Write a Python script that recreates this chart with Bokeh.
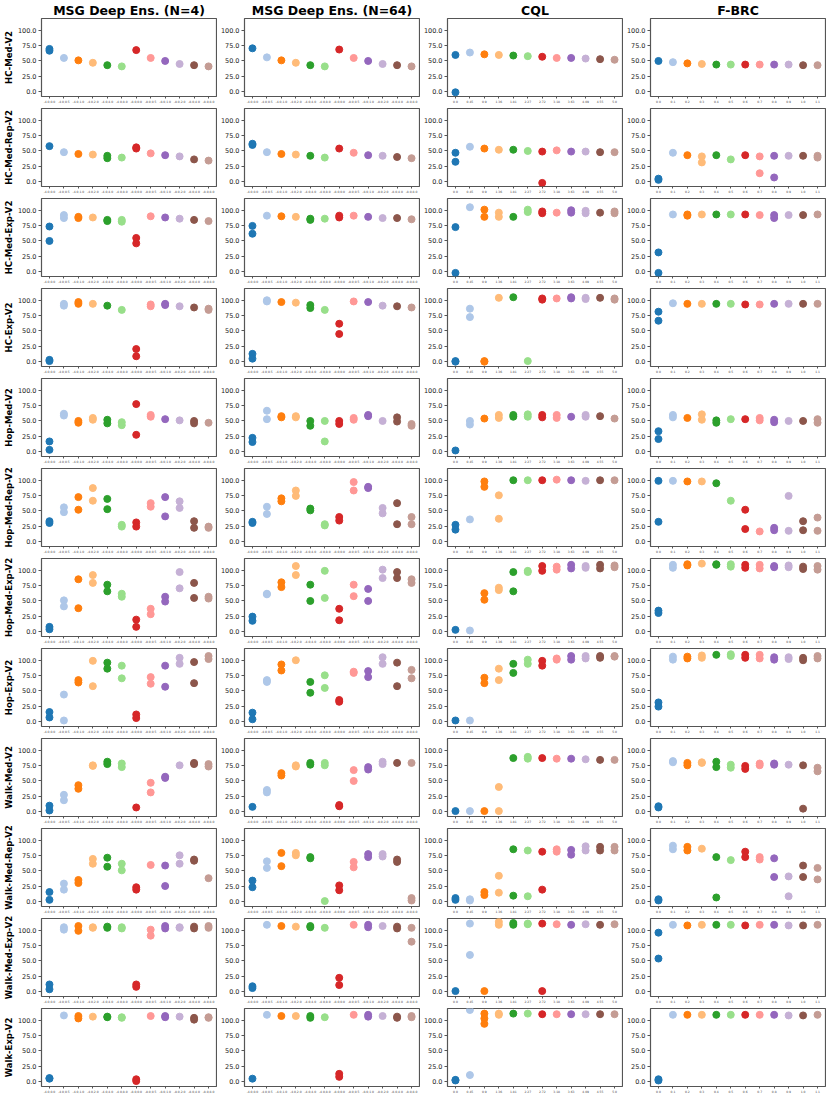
from bokeh.plotting import figure
from bokeh.layouts import gridplot
from bokeh.models import FixedTicker, PrintfTickFormatter, ColumnDataSource, Range1d
from bokeh.embed import file_html
from bokeh.resources import INLINE

row_names = ["HC-Med-V2", "HC-Med-Rep-V2", "HC-Med-Exp-V2", "HC-Exp-V2",
             "Hop-Med-V2", "Hop-Med-Rep-V2", "Hop-Med-Exp-V2", "Hop-Exp-V2",
             "Walk-Med-V2", "Walk-Med-Rep-V2", "Walk-Med-Exp-V2", "Walk-Exp-V2"]
col_titles = ["MSG Deep Ens. (N=4)", "MSG Deep Ens. (N=64)", "CQL", "F-BRC"]

msg_ticks = ["-4.0,0.0", "-4.0,0.5", "-4.0,1.0", "-4.0,2.0", "-4.0,4.0", "-4.0,8.0",
             "-8.0,0.0", "-8.0,0.5", "-8.0,1.0", "-8.0,2.0", "-8.0,4.0", "-8.0,8.0"]
cql_ticks = ["0.0", "0.45", "0.9", "1.36", "1.81", "2.27", "2.72", "3.18", "3.63", "4.09", "4.55", "5.0"]
fbrc_ticks = ["0.0", "0.1", "0.2", "0.3", "0.4", "0.5", "0.6", "0.7", "0.8", "0.9", "1.0", "1.1"]

colors = ["#1f77b4", "#aec7e8", "#ff7f0e", "#ffbb78", "#2ca02c", "#98df8a",
          "#d62728", "#ff9896", "#9467bd", "#c5b0d5", "#8c564b", "#c49c94"]

# scores: [row][setting] -> list of seed results
msg4 = [
    [[67, 70], [55], [51], [47], [43], [41], [68], [55], [50], [45], [43], [41]],
    [[58], [48], [45], [44], [42, 38], [39], [54, 56], [46], [43], [41], [36], [34]],
    [[74, 50], [93, 88], [90, 88], [89], [85, 83], [85, 82], [55, 46], [91], [89], [87], [85], [83]],
    [[2, 0], [95, 92], [98, 95], [95], [92], [85], [20, 8], [94, 91], [95, 93], [91], [89], [87, 85]],
    [[16, 2], [62, 59], [50, 47], [55, 52], [52, 46], [48, 43], [78, 27], [60, 57], [53], [51], [50, 46], [47]],
    [[33, 30], [56, 48], [73, 52], [88, 67], [70, 53], [27, 24], [31, 24], [63, 57], [73, 41], [66, 55], [33, 22], [24, 22]],
    [[7, 3], [51, 41], [86, 38], [93, 80], [77, 66], [62, 57], [19, 7], [37, 28], [57, 49], [98, 71], [80, 55], [57, 54]],
    [[15, 6], [44, 1], [68, 64], [100, 58], [97, 87], [92, 71], [11, 5], [73, 62], [92, 57], [105, 95], [98, 63], [108, 103]],
    [[9, 1], [27, 18], [43, 37], [76, 75], [82, 78], [79, 73], [6], [47, 31], [57, 55], [76], [80, 78], [78, 74]],
    [[15, 2], [29, 19], [35, 30], [70, 62], [72, 57], [62, 51], [23, 19], [60], [59, 25], [76, 62], [69, 67], [38]],
    [[11, 3], [106, 102], [108, 100], [106, 105], [107, 105], [106, 104], [11, 7], [102, 92], [108, 104], [106, 105], [107, 104], [108, 105]],
    [[5, 4], [109], [108, 104], [107], [107, 106], [106, 105], [3, 0], [108], [108, 106], [107], [105, 102], [106, 105]],
]

msg64 = [
    [[71], [56], [51], [47], [43], [41], [69], [55], [50], [45], [43], [41]],
    [[60, 62], [48], [45], [44], [42], [39], [54], [47], [43], [42], [40], [38]],
    [[75, 62], [92], [91], [90], [87, 85], [87], [92, 89], [92], [90], [88], [88], [86]],
    [[12, 4], [101, 99], [98], [97], [93, 88], [85], [62, 45], [99], [98], [92], [91], [89]],
    [[22, 15], [67, 53], [58, 56], [58, 56], [50, 42], [50, 16], [50, 45], [55, 52], [60, 58], [50], [56, 49], [45, 42]],
    [[32, 30], [57, 45], [71, 66], [84, 75], [54, 51], [28, 26], [40, 34], [98, 84], [90, 88], [55, 46], [63, 28], [40, 28]],
    [[24, 17], [62, 61], [81, 73], [108, 93], [77, 50], [100, 55], [37, 18], [77, 58], [70, 50], [102, 88], [98, 88], [86, 80]],
    [[14, 3], [68, 65], [94, 84], [101], [65, 47], [76, 55], [35, 32], [82, 80], [83, 73], [106, 95], [97, 58], [85, 71]],
    [[7], [35, 31], [63, 59], [76, 74], [80, 77], [80, 76], [10, 8], [68, 50], [73, 69], [82, 78], [80], [80]],
    [[34, 23], [66, 55], [80, 58], [80, 76], [73, 71], [0], [26, 18], [65, 56], [78, 73], [78, 74], [69, 65], [5, 1]],
    [[8, 5], [110], [108], [107], [108, 106], [105], [22, 10], [110], [110, 106], [108], [107, 104], [105, 82]],
    [[4], [110], [108], [108], [108, 105], [106], [12, 7], [110], [110, 107], [108], [107, 105], [108, 106]],
]

cql = [
    [[60, -2], [64], [61], [60], [59], [58], [57], [55], [55], [54], [53], [52]],
    [[47, 32], [57], [54], [52], [52], [50], [49, -3], [51], [49], [49], [48], [48]],
    [[73, -3], [106], [102, 90], [97, 90], [90], [102, 98], [99, 96], [97], [101, 97], [100, 96], [97], [99, 96]],
    [[0, -1], [87, 73], [0, -1], [105], [106], [0], [104, 102], [104], [106, 104], [105, 103], [105], [104, 102]],
    [[1], [50, 44], [54], [60, 55], [60, 57], [61, 57], [60, 56], [60, 55], [57], [60, 57], [58], [54]],
    [[27, 19], [36], [99, 90], [76, 37], [101], [101], [101], [102], [101], [100], [101], [101]],
    [[2], [1], [63, 52], [72, 68], [98, 66], [100, 98], [108, 100], [107, 102], [110, 104], [108, 105], [110, 104], [109, 106]],
    [[1], [1], [72, 63], [87, 68], [95, 80], [102, 95], [100, 92], [104, 102], [108, 102], [108, 104], [108, 105], [108, 107]],
    [[0], [0], [0], [40, 0], [88], [90, 87], [88], [87], [87], [86], [85], [85]],
    [[5, 2], [3, 1], [15, 10], [42, 14], [86, 9], [84, 8], [82, 19], [86, 82], [85, 77], [91, 84], [90, 84], [90, 84]],
    [[0], [112, 60], [0], [115, 110], [113, 110], [112, 111], [112, 0], [111], [110], [111], [110], [111]],
    [[2, 1], [118, 10], [112, 104, 95], [112, 110], [112], [112], [111], [111], [111], [111], [111], [111]],
]

fbrc = [
    [[50], [48], [46], [45], [44], [44], [44], [44], [44], [44], [43], [43]],
    [[2, 4], [47], [43], [41, 31], [43], [36], [43], [41, 13], [42, 6], [42], [42], [42, 39]],
    [[31, -3], [94], [94, 92], [94], [94], [94], [94], [93], [93, 88], [93], [93], [94]],
    [[82, 67], [96], [95], [95], [95], [95], [94], [94], [95], [95], [95], [95]],
    [[33, 20], [60, 56], [55], [61, 52], [51, 47], [53], [53], [55, 51], [52, 48], [50], [50], [53, 47]],
    [[100, 32], [100], [99], [99], [96], [67], [52, 20], [16], [22, 18], [75, 17], [33, 18], [39, 17]],
    [[34, 30], [110, 105], [111, 109], [112], [111, 110], [111, 107], [110, 105], [110, 104], [108, 106], [109, 106], [107, 103], [108, 102]],
    [[31, 24], [107, 102], [107, 104], [109, 105], [110], [111, 108], [110, 105], [110, 104], [106, 102], [106, 103], [105, 101], [108, 104]],
    [[8, 6], [83, 81], [80, 76], [81, 80], [82, 73], [77, 72], [75, 70], [79, 76], [79, 77], [77], [76, 4], [72, 66]],
    [[3, 1], [92, 86], [90, 84], [87], [73, 6], [68], [82, 73], [73, 69], [71, 40], [41, 8], [59, 40], [55, 36]],
    [[97, 54], [110], [109], [110], [110], [110], [109], [110], [110], [109], [109], [110]],
    [[3, 1], [110], [110], [110], [110], [110], [110], [110], [110], [109], [109], [110]],
]

columns = [(msg4, msg_ticks), (msg64, msg_ticks), (cql, cql_ticks), (fbrc, fbrc_ticks)]

FONT = "DejaVu Sans"
grid = []
for r in range(12):
    row = []
    for c in range(4):
        data, ticks = columns[c]
        xs, ys, cs = [], [], []
        for i, vals in enumerate(data[r]):
            for v in vals:
                xs.append(i)
                ys.append(v)
                cs.append(colors[i])
        src = ColumnDataSource(dict(x=xs, y=ys, c=cs))
        p = figure(frame_width=175, frame_height=78,
                   x_range=Range1d(-0.55, 11.55), y_range=Range1d(-9, 120.5),
                   output_backend="svg", toolbar_location=None,
                   title=(col_titles[c] if r == 0 else None),
                   min_border_left=0, min_border_right=1,
                   min_border_top=(0 if r == 0 else 3), min_border_bottom=7,
                   background_fill_color="white", border_fill_color="white")
        if r == 0:
            p.title.align = "center"
            p.title.text_font = FONT
            p.title.text_font_size = "12.5px"
            p.title.text_font_style = "bold"
            p.title.text_color = "black"
            p.title.standoff = 1
            p.title.offset = 0
        p.scatter("x", "y", source=src, size=7, color="c", line_color="c")
        p.grid.visible = False
        p.outline_line_color = "#555555"
        p.outline_line_width = 1.2

        p.xaxis.ticker = FixedTicker(ticks=list(range(12)))
        p.xaxis.major_label_overrides = {i: t for i, t in enumerate(ticks)}
        p.xaxis.major_label_text_font_size = "3px"
        p.xaxis.major_label_text_font = FONT
        p.xaxis.major_tick_out = 2
        p.xaxis.major_tick_in = 0
        p.xaxis.major_label_standoff = 1
        p.xaxis.minor_tick_line_color = None
        p.xaxis.axis_line_color = None
        p.xaxis.major_tick_line_color = "#555555"

        p.yaxis.ticker = FixedTicker(ticks=[0, 25, 50, 75, 100])
        p.yaxis.formatter = PrintfTickFormatter(format="%.1f")
        p.yaxis.major_label_text_font_size = "6.5px"
        p.yaxis.major_label_text_font = FONT
        p.yaxis.major_label_text_color = "#222222"
        p.yaxis.major_tick_out = 3
        p.yaxis.major_tick_in = 0
        p.yaxis.major_label_standoff = 2
        p.yaxis.minor_tick_line_color = None
        p.yaxis.axis_line_color = None
        p.yaxis.major_tick_line_color = "#555555"
        if c == 0:
            p.yaxis.axis_label = row_names[r]
            p.yaxis.axis_label_text_font = FONT
            p.yaxis.axis_label_text_font_size = "8.5px"
            p.yaxis.axis_label_text_font_style = "bold"
            p.yaxis.axis_label_text_color = "black"
            p.yaxis.axis_label_standoff = 1
        row.append(p)
    grid.append(row)

g = gridplot(grid, toolbar_location=None)
open("out.html", "w").write(file_html(g, INLINE))
